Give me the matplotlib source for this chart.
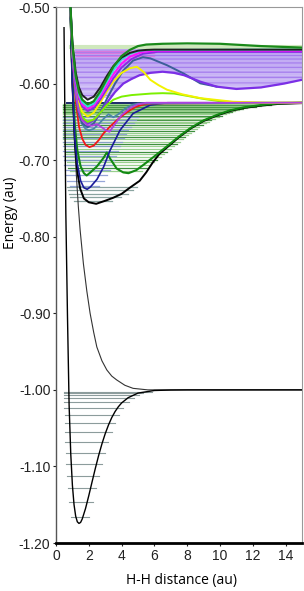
import numpy as np
import matplotlib.pyplot as plt
from matplotlib.ticker import FormatStrFormatter

plt.rcParams['font.family'] = ['Liberation Sans', 'DejaVu Sans']

# ---- potential curves (R in bohr, E in hartree) ----
X_R = [0.49, 0.55, 0.6, 0.7, 0.8, 0.9, 1.0, 1.1, 1.2, 1.3, 1.4, 1.5, 1.6, 1.8, 2.0, 2.2, 2.4, 2.6,
       2.8, 3.0, 3.2, 3.4, 3.6, 3.8, 4.0, 4.4, 5.0, 6.0, 7.0, 8.0, 15.0]
X_E = [-0.527, -0.66, -0.7696, -0.9035, -1.0204, -1.0836, -1.1245, -1.1500, -1.1649, -1.1723,
       -1.1744, -1.1731, -1.1686, -1.1550, -1.1381, -1.1201, -1.1024, -1.0857, -1.0706, -1.0573,
       -1.0459, -1.0362, -1.0284, -1.0221, -1.0171, -1.0102, -1.0042, -1.0008, -1.0002, -1.0, -1.0]

b_R = [0.85, 0.95, 1.05, 1.15, 1.26, 1.36, 1.47, 1.67, 1.88, 2.08, 2.3, 2.49, 2.8, 3.1, 3.4, 3.7,
       4.2, 4.7, 5.6, 7.0, 15.0]
b_E = [-0.50, -0.575, -0.636, -0.685, -0.726, -0.760, -0.791, -0.835, -0.871, -0.900, -0.925,
       -0.944, -0.962, -0.974, -0.982, -0.987, -0.994, -0.998, -1.0, -1.0, -1.0]

B_R = [0.86, 1.0, 1.15, 1.3, 1.47, 1.7, 2.0, 2.45, 3.0, 3.5, 4.0, 4.5, 5.1, 5.5, 5.9, 6.3, 6.76,
       7.5, 8.2, 9.0, 9.8, 10.6, 11.45, 12.5, 13.5, 15.0]
B_E = [-0.49, -0.60, -0.675, -0.715, -0.737, -0.750, -0.755, -0.757, -0.753, -0.749, -0.744,
       -0.736, -0.727, -0.716, -0.703, -0.692, -0.6835, -0.6700, -0.6588, -0.6488, -0.6418,
       -0.6358, -0.6318, -0.6288, -0.6266, -0.6255]

C_R = [0.86, 1.0, 1.15, 1.3, 1.5, 1.7, 1.9, 2.1, 2.5, 2.9, 3.3, 3.9, 4.7, 5.75, 6.8, 15.0]
C_E = [-0.49, -0.60, -0.672, -0.705, -0.727, -0.736, -0.738, -0.735, -0.725, -0.709, -0.687,
       -0.661, -0.639, -0.628, -0.625, -0.625]

EF_R = [0.86, 1.0, 1.15, 1.3, 1.5, 1.7, 1.87, 2.1, 2.5, 2.9, 3.1, 3.3, 3.7, 4.1, 4.42, 4.9, 5.34,
        6.0, 6.76, 7.5, 8.2, 9.0, 9.8, 10.6, 11.45, 12.5, 13.5, 15.0]
EF_E = [-0.49, -0.59, -0.655, -0.687, -0.708, -0.717, -0.720, -0.716, -0.708, -0.697, -0.690,
        -0.698, -0.711, -0.716, -0.717, -0.713, -0.706, -0.695, -0.682, -0.669, -0.658, -0.648,
        -0.641, -0.635, -0.631, -0.628, -0.626, -0.625]

red_R = [0.86, 1.0, 1.2, 1.4, 1.6, 1.8, 2.04, 2.3, 2.6, 2.9, 3.3, 3.7, 4.1, 4.5, 4.9, 5.4, 5.9, 15.0]
red_E = [-0.49, -0.56, -0.622, -0.656, -0.672, -0.680, -0.683, -0.681, -0.674, -0.665, -0.656,
         -0.648, -0.641, -0.635, -0.630, -0.627, -0.626, -0.625]

teal_R = [0.86, 1.0, 1.2, 1.4, 1.6, 1.8, 2.0, 2.3, 2.6, 2.9, 3.2, 3.5, 3.8, 4.2, 4.6, 5.0, 15.0]
teal_E = [-0.49, -0.56, -0.615, -0.640, -0.653, -0.659, -0.661, -0.659, -0.653, -0.646, -0.640,
          -0.644, -0.640, -0.633, -0.628, -0.626, -0.625]

orchid_R = [0.86, 1.0, 1.2, 1.4, 1.6, 1.9, 2.2, 2.5, 2.85, 3.05, 3.26, 3.56, 4.0, 4.5, 5.0, 5.5, 15.0]
orchid_E = [-0.49, -0.56, -0.612, -0.636, -0.648, -0.654, -0.655, -0.653, -0.658, -0.661, -0.663,
            -0.654, -0.641, -0.632, -0.627, -0.625, -0.625]

top_R = [0.86, 1.0, 1.2, 1.4, 1.6, 1.93, 2.3, 2.7, 3.1, 3.5, 4.0, 4.5, 5.0, 5.5, 6.0, 15.0]
top_E = [-0.49, -0.545, -0.585, -0.605, -0.615, -0.621, -0.617, -0.605, -0.590, -0.577, -0.566,
         -0.560, -0.557, -0.556, -0.5556, -0.5556]

gtop_R = [0.86, 1.0, 1.2, 1.4, 1.6, 1.93, 2.3, 2.7, 3.1, 3.5, 4.0, 4.5, 5.0, 5.5, 6.5, 8.0, 10.0,
          12.5, 15.0]
gtop_E = [-0.49, -0.55, -0.59, -0.611, -0.621, -0.627, -0.623, -0.610, -0.594, -0.578, -0.564,
          -0.556, -0.551, -0.549, -0.548, -0.5475, -0.548, -0.551, -0.553]

cyan_R = [0.86, 1.0, 1.2, 1.4, 1.6, 1.93, 2.3, 2.7, 3.1, 3.5, 4.0, 4.5, 5.1, 5.8, 15.0]
cyan_E = [-0.49, -0.55, -0.592, -0.614, -0.624, -0.630, -0.626, -0.613, -0.597, -0.582, -0.568,
          -0.561, -0.557, -0.556, -0.5556]

mag_R = [0.86, 1.0, 1.2, 1.4, 1.6, 1.93, 2.3, 2.7, 3.1, 3.5, 4.0, 4.5, 5.2, 6.0, 15.0]
mag_E = [-0.49, -0.552, -0.595, -0.617, -0.627, -0.633, -0.629, -0.617, -0.602, -0.588, -0.574,
         -0.565, -0.559, -0.557, -0.557]

bviol_R = [0.86, 1.0, 1.2, 1.4, 1.6, 1.93, 2.3, 2.7, 3.1, 3.5, 4.0, 4.6, 5.3, 6.2, 15.0]
bviol_E = [-0.49, -0.553, -0.598, -0.620, -0.630, -0.636, -0.632, -0.621, -0.607, -0.593, -0.579,
           -0.568, -0.561, -0.5585, -0.5585]

yel_R = [0.86, 1.0, 1.2, 1.4, 1.6, 1.93, 2.3, 2.7, 3.1, 3.5, 4.0, 4.5, 4.93, 5.35, 5.75, 6.25,
         6.77, 7.7, 8.8, 10.8, 12.9, 15.0]
yel_E = [-0.49, -0.555, -0.600, -0.625, -0.637, -0.643, -0.638, -0.625, -0.610, -0.597, -0.586,
         -0.580, -0.578, -0.585, -0.595, -0.602, -0.608, -0.614, -0.619, -0.6237, -0.625, -0.625]

lime_R = [0.86, 1.0, 1.2, 1.4, 1.6, 1.93, 2.3, 2.7, 3.1, 3.5, 4.0, 4.6, 5.2, 5.8, 6.5, 7.2, 8.0,
          9.0, 10.0, 11.0, 12.0, 15.0]
lime_E = [-0.49, -0.56, -0.607, -0.632, -0.644, -0.650, -0.647, -0.638, -0.628, -0.621, -0.617,
          -0.615, -0.614, -0.613, -0.6125, -0.613, -0.616, -0.620, -0.623, -0.6245, -0.625, -0.625]

purp_R = [0.86, 1.0, 1.2, 1.4, 1.6, 1.93, 2.3, 2.7, 3.1, 3.6, 4.1, 4.6, 5.1, 5.75, 6.5, 7.2, 7.8,
          8.8, 9.8, 11.0, 12.5, 13.9, 15.0]
purp_E = [-0.49, -0.56, -0.61, -0.635, -0.647, -0.652, -0.648, -0.638, -0.625, -0.611, -0.600,
          -0.594, -0.589, -0.586, -0.5845, -0.586, -0.589, -0.5975, -0.604, -0.607, -0.605,
          -0.600, -0.595]

steel_R = [0.86, 1.0, 1.2, 1.4, 1.6, 1.93, 2.3, 2.7, 3.1, 3.6, 4.1, 4.7, 5.3, 5.75, 6.77, 7.8,
           8.8, 9.8]
steel_E = [-0.49, -0.56, -0.612, -0.640, -0.652, -0.657, -0.652, -0.638, -0.620, -0.600, -0.583,
           -0.570, -0.5655, -0.567, -0.576, -0.587, -0.5997, -0.604]

# ---- vibrational levels (hartree) ----
X_levels = [-1.1657, -1.1469, -1.1286, -1.1125, -1.0968, -1.0820, -1.0677, -1.0546, -1.0437,
            -1.0328, -1.0241, -1.0155, -1.0102, -1.0071, -1.0045, -1.0024]
B_levels = [-0.7530, -0.7485, -0.7440, -0.7395, -0.7350]
C_levels = [-0.7340, -0.7270, -0.7200, -0.7130, -0.7065, -0.7000, -0.6940, -0.6880, -0.6820,
            -0.6765, -0.6710, -0.6660, -0.6610, -0.6565, -0.6520, -0.6480, -0.6440]
EF_levels = [-0.7140, -0.7100, -0.7065, -0.7030, -0.6995, -0.6960, -0.6925, -0.6890, -0.6855,
             -0.6820, -0.6790, -0.6760, -0.6730, -0.6700, -0.6672, -0.6645, -0.6618, -0.6592,
             -0.6567, -0.6543, -0.6520, -0.6498, -0.6477, -0.6457, -0.6438, -0.6420, -0.6403,
             -0.6387, -0.6372, -0.6358, -0.6345, -0.6333, -0.6322, -0.6312, -0.6302, -0.6293,
             -0.6285, -0.6277, -0.6270]
purp_levels = [-0.5562, -0.5570, -0.5578, -0.5587, -0.5596, -0.5605, -0.5615, -0.5625, -0.5636,
               -0.5647, -0.5658, -0.5670, -0.5682, -0.5694, -0.5707, -0.5720, -0.5733, -0.5747,
               -0.5761, -0.5775, -0.5790, -0.5805, -0.5820, -0.5836, -0.5852, -0.5868, -0.5885,
               -0.5902, -0.5919, -0.5937, -0.5955, -0.5973, -0.5992, -0.6011, -0.6030, -0.6050,
               -0.6070, -0.6090, -0.6111, -0.6132, -0.6154, -0.6176]
pink_levels = [-0.5572, -0.5600, -0.5640]
gtop_levels = [-0.5490, -0.5505, -0.5520, -0.5535]
limit_n2 = -0.625

fig = plt.figure(figsize=(3.04, 5.91), dpi=100)
ax = fig.add_axes([0.1842, 0.0812, 0.8092, 0.9069])

grid = np.linspace(0.3, 15, 3000)


def span(R, E, lev, lo_pad, hi_pad):
    c = np.interp(grid, R, E)
    ok = grid[c <= lev]
    return max(ok.min() - lo_pad, 0.45), min(ok.max() + hi_pad, 15)


# levels
for lev in X_levels:
    a, b = span(X_R, X_E, lev, 0.3, 0.35)
    ax.plot([a, b], [lev, lev], color='#8c9c9c', lw=0.8, zorder=1)
for lev in B_levels:
    a, b = span(B_R, B_E, lev, 0.8, 0.4)
    ax.plot([a, b], [lev, lev], color='#8aa4a0', lw=0.9, zorder=1)
for i, lev in enumerate(EF_levels):
    a, b = span(EF_R, EF_E, lev, 0.8, 0.45)
    col = '#3f8f3f' if i % 3 == 1 else '#98cf8e'
    ax.plot([a, b], [lev, lev], color=col, lw=0.9, zorder=1)
for lev in C_levels:
    a, b = span(C_R, C_E, lev, 0.8, 0.5)
    ax.plot([a, b], [lev, lev], color='#8497d2', lw=0.9, alpha=0.85, zorder=1)
pc = np.interp(grid, purp_R, purp_E)
for i, lev in enumerate(purp_levels):
    y = np.where((pc <= lev) & (grid >= 1.2), lev, np.nan)
    col = '#8a56e8' if i % 4 == 0 else '#b89ef2'
    ax.plot(grid, y, color=col, lw=1.1, alpha=0.75, zorder=1)
for lev in pink_levels:
    ax.plot([1.25, 6.0], [lev, lev], color='#e070d8', lw=0.9, alpha=0.8, zorder=1)
for lev in gtop_levels:
    ax.plot([0.8, 15], [lev, lev], color='#cfe8bd', lw=0.8, zorder=1)
ax.plot([0.65, 15], [limit_n2, limit_n2], color='#1c2a6a', lw=1.4, zorder=2)

# curves
curves = [
    (b_R, b_E, '#333333', 0.8),
    (X_R, X_E, 'black', 1.0),
    (B_R, B_E, 'black', 1.4),
    (EF_R, EF_E, '#138a13', 1.5),
    (C_R, C_E, '#1a1a9a', 1.2),
    (red_R, red_E, '#f01818', 1.3),
    (teal_R, teal_E, '#4a86a8', 1.3),
    (steel_R, steel_E, '#3c5f98', 1.4),
    (purp_R, purp_E, '#7b2fe6', 1.6),
    (lime_R, lime_E, '#7cf000', 1.4),
    (yel_R, yel_E, '#f2f200', 1.4),
    (orchid_R, orchid_E, '#b040e0', 1.3),
    (bviol_R, bviol_E, '#8a2be2', 1.4),
    (mag_R, mag_E, '#ff10ff', 1.4),
    (cyan_R, cyan_E, '#30e0d8', 1.4),
    (top_R, top_E, '#202020', 1.4),
    (gtop_R, gtop_E, '#1a8a1a', 1.6),
]
for R, E, col, lw in curves:
    ax.plot(R, E, color=col, lw=lw, zorder=3)

ax.set_xlim(0, 15)
ax.set_ylim(-1.2, -0.5)
ax.set_xticks(np.arange(0, 15, 2))
ax.set_yticks(np.arange(-1.2, -0.49, 0.1))
ax.yaxis.set_major_formatter(FormatStrFormatter('%.2f'))
ax.tick_params(direction='out', length=2.5, width=0.8, labelsize=10, pad=1.5, colors='#222222')

ax.spines['left'].set_color('#555555')
ax.spines['left'].set_linewidth(1.0)
ax.spines['bottom'].set_color('black')
ax.spines['bottom'].set_linewidth(2.0)
for s in ('top', 'right'):
    ax.spines[s].set_color('#999999')
    ax.spines[s].set_linewidth(0.8)

ax.set_xlabel('H-H distance (au)', family=['Open Sans', 'DejaVu Sans'], fontsize=10)
ax.set_ylabel('Energy (au)', family=['Open Sans', 'DejaVu Sans'], fontsize=10)
ax.xaxis.set_label_coords(0.51, -0.056)
ax.yaxis.set_label_coords(-0.155, 0.616)

fig.savefig('out.png', dpi=100)
